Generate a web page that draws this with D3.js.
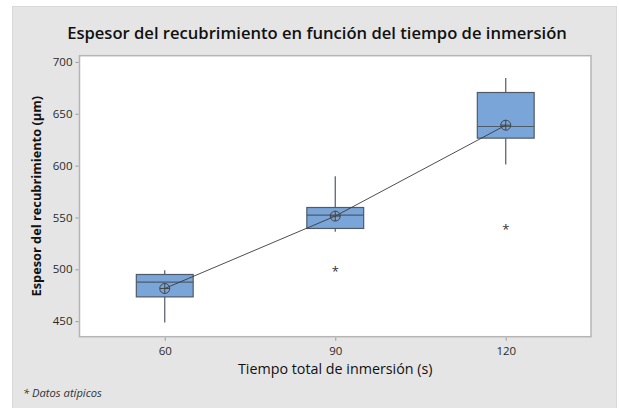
<!DOCTYPE html>
<html>
<head>
<meta charset="utf-8">
<script src="https://cdn.jsdelivr.net/npm/d3@7"></script>
<style>
  body { margin: 0; background: #fff; }
  text { font-family: "Open Sans", "Noto Sans", sans-serif; }
</style>
</head>
<body>
<div id="chart"></div>
<script>
// data
var groups = [60, 90, 120];
var q1 = [473.4, 539.4, 626.5];
var medians = [487.6, 552.2, 637.7];
var q3 = [495.0, 559.6, 670.5];
var whiskerLow = [448.7, 536.1, 601.1];
var whiskerHigh = [499.2, 589.8, 684.6];
var means = [481.5, 551.3, 639.0];
var outliers = [[90, 499.2], [120, 540.0]];
var yTicks = [450, 500, 550, 600, 650, 700];
var xTicks = [60, 90, 120];

var W = 619, H = 408;
var plot = {left: 79.5, top: 55.7, right: 591, bottom: 336.7};

var svg = d3.select("#chart").append("svg")
    .attr("width", W)
    .attr("height", H);

// outer gray panel
svg.append("rect")
    .attr("x", 12.5).attr("y", 6.5)
    .attr("width", W - 15).attr("height", H)
    .attr("fill", "#e5e5e5")
    .attr("stroke", "#d8d8d8");

var xScale = d3.scaleLinear().domain([45, 135]).range([plot.left, plot.right]);
var yScale = d3.scaleLinear().domain([435, 706]).range([plot.bottom, plot.top]);

// plot area
svg.append("rect")
    .attr("x", plot.left).attr("y", plot.top)
    .attr("width", plot.right - plot.left)
    .attr("height", plot.bottom - plot.top)
    .attr("fill", "#fff")
    .attr("stroke", "#b5b5b5")
    .attr("stroke-width", 1.5);

// axes
var yAxis = svg.append("g")
    .attr("transform", "translate(" + (plot.left - 1) + ",0)")
    .call(d3.axisLeft(yScale).tickValues(yTicks).tickSize(3).tickPadding(3));
var xAxis = svg.append("g")
    .attr("transform", "translate(0," + (plot.bottom + 1) + ")")
    .call(d3.axisBottom(xScale).tickValues(xTicks).tickSize(3).tickPadding(6));
[xAxis, yAxis].forEach(function(a) {
    a.select(".domain").remove();
    a.selectAll("line").attr("stroke", "#999");
    a.selectAll("text").attr("fill", "#2a2a2a").style("font-size", "11.5px");
});

var boxHalf = 5; // in x units
var boxColor = "#7aa5d8", edge = "#505a66";

var g = svg.append("g");
groups.forEach(function(d, i) {
    var cx = xScale(d);
    // whiskers
    g.append("line")
        .attr("x1", cx).attr("x2", cx)
        .attr("y1", yScale(whiskerHigh[i])).attr("y2", yScale(q3[i]))
        .attr("stroke", edge).attr("stroke-width", 1.2);
    g.append("line")
        .attr("x1", cx).attr("x2", cx)
        .attr("y1", yScale(q1[i])).attr("y2", yScale(whiskerLow[i]))
        .attr("stroke", edge).attr("stroke-width", 1.2);
    // box
    g.append("rect")
        .attr("x", xScale(d - boxHalf))
        .attr("y", yScale(q3[i]))
        .attr("width", xScale(d + boxHalf) - xScale(d - boxHalf))
        .attr("height", yScale(q1[i]) - yScale(q3[i]))
        .attr("fill", boxColor)
        .attr("stroke", edge).attr("stroke-width", 1.2);
    // median
    g.append("line")
        .attr("x1", xScale(d - boxHalf)).attr("x2", xScale(d + boxHalf))
        .attr("y1", yScale(medians[i])).attr("y2", yScale(medians[i]))
        .attr("stroke", edge).attr("stroke-width", 1.2);
});

// line joining the means
svg.append("path")
    .datum(groups.map(function(d, i) { return [d, means[i]]; }))
    .attr("fill", "none")
    .attr("stroke", "#3a3a3a")
    .attr("stroke-width", 0.9)
    .attr("d", d3.line().x(function(d) { return xScale(d[0]); }).y(function(d) { return yScale(d[1]); }));

// mean symbols (circle with cross)
var meanG = svg.append("g").selectAll("g")
    .data(groups.map(function(d, i) { return [d, means[i]]; }))
    .enter().append("g")
    .attr("transform", function(d) { return "translate(" + xScale(d[0]) + "," + yScale(d[1]) + ")"; });
meanG.append("circle").attr("r", 5).attr("fill", "none").attr("stroke", "#444").attr("stroke-width", 1);
meanG.append("path").attr("d", "M-5,0H5M0,-5V5").attr("stroke", "#444").attr("stroke-width", 1);

// outliers
svg.append("g").selectAll("text")
    .data(outliers)
    .enter().append("text")
    .attr("x", function(d) { return xScale(d[0]); })
    .attr("y", function(d) { return yScale(d[1]) + 6; })
    .attr("text-anchor", "middle")
    .style("font-size", "13px")
    .attr("fill", "#333")
    .text("*");

// titles
svg.append("text")
    .attr("x", 317).attr("y", 39)
    .attr("text-anchor", "middle")
    .style("font-size", "16.6px")
    .style("font-weight", "600")
    .attr("fill", "#111")
    .text("Espesor del recubrimiento en función del tiempo de inmersión");

svg.append("text")
    .attr("transform", "translate(41," + ((plot.top + plot.bottom) / 2) + ") rotate(-90)")
    .attr("text-anchor", "middle")
    .style("font-size", "12.8px")
    .style("font-weight", "bold")
    .attr("fill", "#111")
    .text("Espesor del recubrimiento (µm)");

svg.append("text")
    .attr("x", (plot.left + plot.right) / 2).attr("y", 374)
    .attr("text-anchor", "middle")
    .style("font-size", "14.3px")
    .attr("fill", "#111")
    .text("Tiempo total de inmersión (s)");

svg.append("text")
    .attr("x", 23).attr("y", 397)
    .style("font-size", "11.2px")
    .style("font-style", "italic")
    .attr("fill", "#333")
    .text("* Datos atípicos");
</script>
</body>
</html>
